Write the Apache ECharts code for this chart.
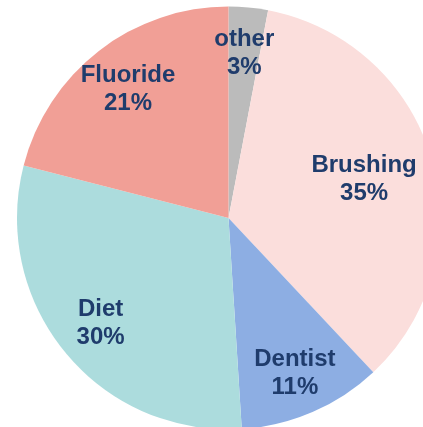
<!DOCTYPE html>
<html>
<head>
<meta charset="utf-8">
<script src="https://cdn.jsdelivr.net/npm/echarts@6/dist/echarts.min.js"></script>
<style>
  html, body { margin: 0; padding: 0; background: #ffffff; }
  #chart { width: 423px; height: 427px; }
</style>
</head>
<body>
<div id="chart"></div>
<script>
// Causes of tooth decay, share of total (%), clockwise from 12 o'clock
const categories = ['other', 'Brushing', 'Dentist', 'Diet', 'Fluoride'];
const shares = [3, 35, 11, 30, 21];
const sliceColors = ['#BBBBBB', '#FBDEDC', '#8DAEE3', '#ACDCDD', '#F19F96'];

const CENTER = [228.5, 218];
const RADIUS = 211.5;
const LABEL_RING_INNER = 117;

// small per-label nudges (px) applied after the default inside placement
const labelNudges = [[0, 2], [-25, 8], [0, 2], [1, -1], [2, 4]];

const pieData = categories.map((name, i) => ({
  name: name,
  value: shares[i],
  itemStyle: { color: sliceColors[i] }
}));

const chart = echarts.init(document.getElementById('chart'), null, { renderer: 'canvas' });

chart.setOption({
  animation: false,
  backgroundColor: '#ffffff',
  series: [
    {
      // visible slices
      type: 'pie',
      center: CENTER,
      radius: [0, RADIUS],
      startAngle: 90,
      clockwise: true,
      silent: true,
      label: { show: false },
      labelLine: { show: false },
      itemStyle: { borderWidth: 0 },
      data: pieData
    },
    {
      // transparent ring that carries the slice labels further out
      type: 'pie',
      center: CENTER,
      radius: [LABEL_RING_INNER, RADIUS],
      startAngle: 90,
      clockwise: true,
      silent: true,
      itemStyle: { color: 'rgba(0,0,0,0)', borderWidth: 0 },
      labelLine: { show: false },
      label: {
        show: true,
        position: 'inside',
        formatter: p => p.name + '\n' + p.value + '%',
        fontFamily: '"Liberation Sans", Arial, sans-serif',
        fontWeight: 'bold',
        fontSize: 24,
        lineHeight: 28,
        color: '#1F3C6C',
        align: 'center'
      },
      labelLayout: function (params) {
        const n = labelNudges[params.dataIndex] || [0, 0];
        return { dx: n[0], dy: n[1] };
      },
      data: categories.map((name, i) => ({ name: name, value: shares[i] }))
    }
  ]
});
</script>
</body>
</html>
